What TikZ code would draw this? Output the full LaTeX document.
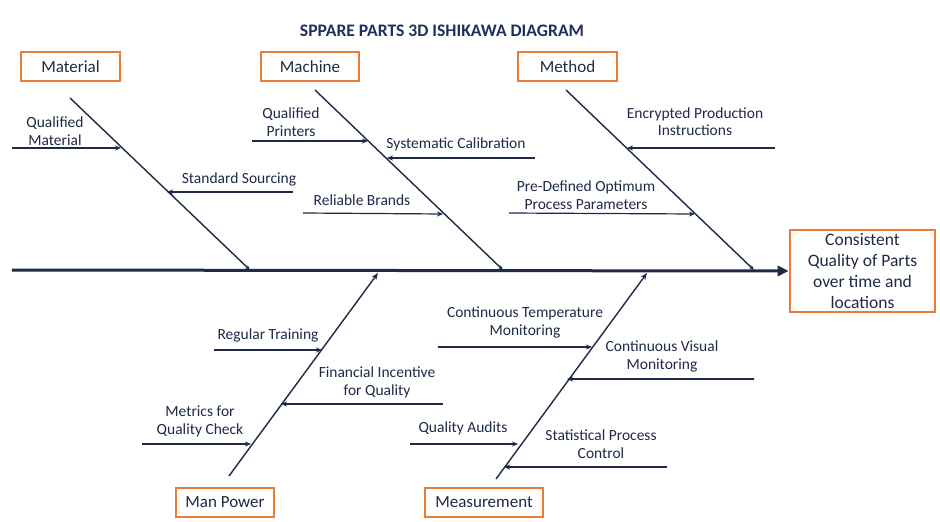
\documentclass[tikz,border=0pt]{standalone}
\usepackage{fontspec}
\setmainfont{Carlito}
\usetikzlibrary{arrows.meta}
\definecolor{navy}{RGB}{31,42,72}
\definecolor{titleblue}{RGB}{31,48,94}
\definecolor{boxorange}{RGB}{232,125,55}
\tikzset{
  catbox/.style={draw=boxorange, line width=1.6pt, minimum height=29pt, inner sep=0pt, text=navy, font=\fontsize{17}{20}\selectfont},
  effectbox/.style={draw=boxorange, line width=2.6pt, minimum width=145pt, minimum height=82pt, inner sep=0pt, align=center, text=navy, font=\fontsize{17.5}{21}\selectfont},
  lbl/.style={align=center, inner sep=0pt, text=navy, font=\fontsize{15.5}{17.5}\selectfont},
  bone/.style={draw=navy, line width=1.4pt},
  topbone/.style={bone, -{Stealth[length=5pt,width=4pt]}},
  botbone/.style={bone, -{Stealth[length=7pt,width=5.5pt]}},
  sub/.style={draw=navy, line width=1.2pt, -{Stealth[length=6pt,width=5pt]}},
  spine/.style={draw=navy, line width=3pt, -{Triangle[length=11pt,width=10pt]}}
}
\begin{document}
\begin{tikzpicture}[x=1pt,y=-1pt]
\useasboundingbox[fill=white] (0,0) rectangle (940,522);

% title
\node[font=\fontsize{17.6}{20}\selectfont\bfseries, text=titleblue] (title) at (442,31) {SPPARE PARTS 3D ISHIKAWA DIAGRAM};

% effect
\node[effectbox] (effect) at (862.5,271) {Consistent\\Quality of Parts\\over time and\\locations};

% spine
\coordinate (spS) at (12,270);
\draw[spine] (spS) -- (effect.west);

% categories
\node[catbox, minimum width=99pt] (material) at (70.5,66.5) {Material};
\node[catbox, minimum width=98pt] (machine) at (310,66.5) {Machine};
\node[catbox, minimum width=99pt] (method) at (567.5,66.5) {Method};
\node[catbox, minimum width=98pt] (manpower) at (225,502.5) {Man Power};
\node[catbox, minimum width=118pt] (measurement) at (484,502.5) {Measurement};

% bones
\coordinate (matS) at (70,98);   \coordinate (matE) at (250,270);
\coordinate (macS) at (315,90);  \coordinate (macE) at (503,270);
\coordinate (metS) at (566,90);  \coordinate (metE) at (754,270);
\coordinate (manS) at (229,476); \coordinate (manE) at (378,273);
\coordinate (meaS) at (496,479); \coordinate (meaE) at (647,273);
\draw[topbone] (matS) -- (matE);
\draw[topbone] (macS) -- (macE);
\draw[topbone] (metS) -- (metE);
\draw[botbone] (manS) -- (manE);
\draw[botbone] (meaS) -- (meaE);

% Material causes
\node[lbl] (qm) at (55,131) {Qualified\\Material};
\coordinate (qmA) at (12,148); \coordinate (qmB) at (121,148);
\draw[sub] (qmA) -- (qmB);
\node[lbl] (ss) at (239,179.5) {Standard Sourcing};
\coordinate (ssA) at (293,192); \coordinate (ssB) at (167,192);
\draw[sub] (ssA) -- (ssB);

% Machine causes
\node[lbl] (qp) at (291,122) {Qualified\\Printers};
\coordinate (qpA) at (252,141); \coordinate (qpB) at (368,141);
\draw[sub] (qpA) -- (qpB);
\node[lbl] (sc) at (456,144.5) {Systematic Calibration};
\coordinate (scA) at (535,158); \coordinate (scB) at (387,158);
\draw[sub] (scA) -- (scB);
\node[lbl] (rb) at (362,200.5) {Reliable Brands};
\coordinate (rbA) at (303,213); \coordinate (rbB) at (443,214);
\draw[sub] (rbA) -- (rbB);

% Method causes
\node[lbl] (ep) at (695,121.5) {Encrypted Production\\Instructions};
\coordinate (epA) at (775,148); \coordinate (epB) at (627,148);
\draw[sub] (epA) -- (epB);
\node[lbl] (pd) at (586,195) {Pre-Defined Optimum\\Process Parameters};
\coordinate (pdA) at (509,213); \coordinate (pdB) at (695,214);
\draw[sub] (pdA) -- (pdB);

% Man Power causes
\node[lbl] (rt) at (268,335.5) {Regular Training};
\coordinate (rtA) at (214,350); \coordinate (rtB) at (322,350);
\draw[sub] (rtA) -- (rtB);
\node[lbl] (fi) at (377,382.5) {Financial Incentive\\for Quality};
\coordinate (fiA) at (443,404); \coordinate (fiB) at (281,404);
\draw[sub] (fiA) -- (fiB);
\node[lbl] (mq) at (200,421.5) {Metrics for\\Quality Check};
\coordinate (mqA) at (142,444); \coordinate (mqB) at (251,444);
\draw[sub] (mqA) -- (mqB);

% Measurement causes
\node[lbl] (ct) at (525,322.5) {Continuous Temperature\\Monitoring};
\coordinate (ctA) at (438,347); \coordinate (ctB) at (592,347);
\draw[sub] (ctA) -- (ctB);
\node[lbl] (cv) at (662,356.5) {Continuous Visual\\Monitoring};
\coordinate (cvA) at (754,379); \coordinate (cvB) at (567,379);
\draw[sub] (cvA) -- (cvB);
\node[lbl] (qa) at (463,428.5) {Quality Audits};
\coordinate (qaA) at (410,444); \coordinate (qaB) at (518,444);
\draw[sub] (qaA) -- (qaB);
\node[lbl] (sp) at (601,444) {Statistical Process\\Control};
\coordinate (spA) at (667,467); \coordinate (spB) at (504,467);
\draw[sub] (spA) -- (spB);
\end{tikzpicture}
\end{document}
